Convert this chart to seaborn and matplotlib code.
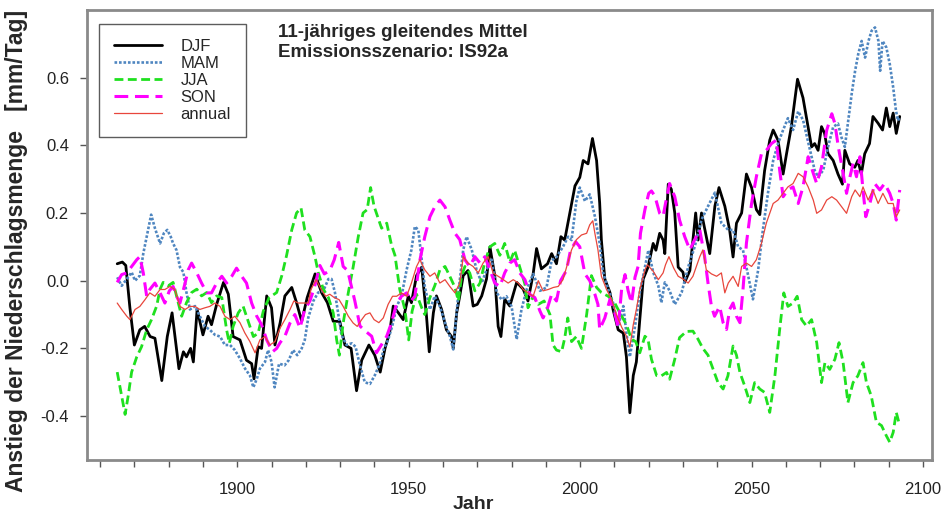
import numpy as np
import pandas as pd
import matplotlib
matplotlib.use("Agg")
import matplotlib.pyplot as plt
import seaborn as sns

# 11-year running means
djf_year = [1865.0, 1866.5, 1867.5, 1868.7, 1870.0, 1871.6, 1873.0, 1874.6, 1876.0, 1878.0,
            1879.6, 1881.0, 1883.0, 1884.3, 1885.2, 1886.4, 1887.2, 1888.3, 1890.0, 1891.5,
            1892.5, 1894.0, 1896.0, 1897.4, 1898.8, 1900.8, 1902.7, 1904.2, 1904.9, 1906.1,
            1907.1, 1908.6, 1910.0, 1911.0, 1912.5, 1913.9, 1915.9, 1917.3, 1918.8, 1920.4,
            1922.7, 1924.6, 1926.3, 1928.0, 1929.9, 1931.4, 1933.2, 1934.8, 1936.3, 1938.4,
            1940.1, 1941.7, 1943.1, 1944.5, 1945.5, 1947.0, 1948.4, 1949.9, 1950.8, 1952.3,
            1953.8, 1955.2, 1956.0, 1957.2, 1958.1, 1959.6, 1961.0, 1962.5, 1963.0, 1964.0,
            1964.9, 1965.9, 1967.3, 1968.8, 1970.0, 1971.3, 1972.7, 1973.7, 1975.1, 1976.1,
            1976.9, 1978.0, 1979.5, 1981.5, 1983.4, 1984.8, 1986.3, 1987.3, 1988.7, 1990.5,
            1991.7, 1993.1, 1994.4, 1995.5, 1997.0, 1998.5, 1999.9, 2000.9, 2002.3, 2003.6,
            2004.8, 2005.7, 2006.2, 2007.2, 2008.7, 2009.6, 2011.1, 2012.6, 2013.5, 2014.5,
            2015.5, 2016.4, 2017.4, 2018.4, 2019.8, 2021.3, 2022.1, 2023.2, 2024.2, 2024.7,
            2025.7, 2026.6, 2027.6, 2028.6, 2030.0, 2030.5, 2032.0, 2033.7, 2034.4, 2035.4,
            2037.8, 2039.3, 2040.5, 2042.2, 2043.6, 2044.6, 2045.6, 2047.1, 2048.5, 2050.0,
            2051.4, 2052.4, 2053.8, 2055.3, 2056.3, 2057.7, 2059.2, 2060.2, 2061.6, 2063.4,
            2065.0, 2066.3, 2067.5, 2068.4, 2069.4, 2070.4, 2071.3, 2072.3, 2073.8, 2075.2,
            2076.5, 2077.2, 2078.6, 2080.1, 2081.0, 2082.0, 2083.0, 2084.4, 2085.4, 2086.9,
            2088.2, 2089.3, 2090.3, 2091.3, 2092.2, 2093.2]
djf_val = [0.05, 0.055, 0.045, -0.08, -0.19, -0.145, -0.135, -0.165, -0.17, -0.295,
           -0.165, -0.095, -0.26, -0.21, -0.225, -0.2, -0.24, -0.085, -0.16, -0.105,
           -0.13, -0.07, -0.005, -0.04, -0.165, -0.175, -0.235, -0.245, -0.29, -0.195,
           -0.2, -0.045, -0.08, -0.19, -0.125, -0.045, -0.02, -0.065, -0.12, -0.05,
           0.02, -0.035, -0.065, -0.12, -0.12, -0.19, -0.2, -0.325, -0.235, -0.19,
           -0.22, -0.27, -0.2, -0.15, -0.075, -0.095, -0.115, -0.045, -0.065, 0.015,
           0.04, -0.105, -0.21, -0.095, -0.045, -0.085, -0.145, -0.165, -0.2, -0.095,
           -0.045, 0.015, 0.03, -0.075, -0.07, -0.045, 0.005, 0.1, 0.015, -0.135,
           -0.165, -0.055, -0.075, -0.005, -0.025, -0.06, 0.02, 0.095, 0.035, 0.05,
           0.08, 0.05, 0.13, 0.12, 0.2, 0.28, 0.305, 0.355, 0.345, 0.42,
           0.355, 0.23, 0.12, 0.005, -0.035, -0.085, -0.145, -0.155, -0.225, -0.39,
           -0.28, -0.24, -0.115, 0.005, 0.04, 0.11, 0.09, 0.14, 0.12, 0.08,
           0.285, 0.27, 0.2, 0.04, 0.025, -0.005, 0.03, 0.2, 0.12, 0.2,
           0.08, 0.22, 0.275, 0.22, 0.15, 0.07, 0.17, 0.2, 0.315, 0.275,
           0.21, 0.195, 0.325, 0.415, 0.445, 0.415, 0.315, 0.375, 0.455, 0.595,
           0.54, 0.465, 0.395, 0.405, 0.385, 0.455, 0.435, 0.375, 0.355, 0.315,
           0.285, 0.385, 0.345, 0.335, 0.355, 0.315, 0.375, 0.405, 0.485, 0.465,
           0.445, 0.51, 0.455, 0.495, 0.435, 0.485]

mam_year = [1865.0, 1866.3, 1867.8, 1869.2, 1870.2, 1871.6, 1872.6, 1873.6, 1874.9, 1876.0,
            1877.5, 1878.6, 1879.6, 1880.6, 1881.3, 1882.3, 1883.3, 1884.3, 1885.2, 1886.2,
            1887.7, 1889.1, 1890.6, 1892.0, 1893.5, 1895.0, 1896.4, 1897.9, 1899.3, 1900.8,
            1902.3, 1903.7, 1904.7, 1905.7, 1906.6, 1908.1, 1909.0, 1910.0, 1910.9, 1912.2,
            1913.8, 1915.0, 1916.3, 1917.5, 1918.8, 1919.7, 1920.7, 1922.2, 1923.6, 1925.1,
            1926.6, 1927.5, 1928.5, 1929.5, 1930.4, 1931.9, 1933.4, 1934.5, 1935.8, 1937.2,
            1938.7, 1940.1, 1941.6, 1942.8, 1944.0, 1945.3, 1946.5, 1947.9, 1949.4, 1950.8,
            1951.8, 1952.8, 1953.8, 1954.7, 1956.2, 1957.6, 1959.1, 1960.6, 1962.0, 1963.0,
            1964.5, 1965.9, 1966.9, 1968.4, 1969.8, 1971.3, 1972.7, 1974.2, 1975.7, 1977.1,
            1978.5, 1980.0, 1981.5, 1982.9, 1984.4, 1986.3, 1988.3, 1990.2, 1991.7, 1993.1,
            1995.0, 1996.5, 1997.5, 1998.9, 1999.9, 2001.4, 2002.8, 2004.3, 2005.7, 2006.7,
            2008.2, 2009.6, 2011.1, 2012.6, 2013.5, 2014.5, 2016.0, 2017.4, 2018.9, 2019.9,
            2021.3, 2022.8, 2023.7, 2024.7, 2026.1, 2027.6, 2029.6, 2031.5, 2033.4, 2035.4,
            2037.3, 2039.3, 2041.2, 2043.2, 2044.6, 2046.1, 2047.5, 2049.0, 2050.4, 2051.9,
            2053.3, 2054.8, 2056.3, 2057.7, 2059.2, 2060.6, 2062.1, 2063.6, 2065.0, 2066.5,
            2067.5, 2068.4, 2069.4, 2070.9, 2072.3, 2073.8, 2075.2, 2076.2, 2077.2, 2078.2,
            2079.2, 2080.2, 2081.1, 2082.1, 2083.1, 2084.1, 2085.0, 2086.0, 2087.0, 2087.5,
            2088.2, 2089.3, 2090.3, 2091.3, 2092.1, 2092.7, 2093.2]
mam_val = [0.01, -0.015, 0.005, 0.025, 0.0, 0.015, 0.08, 0.13, 0.195, 0.155,
           0.11, 0.14, 0.15, 0.13, 0.11, 0.09, 0.04, 0.025, -0.035, -0.085,
           -0.075, -0.105, -0.135, -0.145, -0.16, -0.165, -0.19, -0.19, -0.205, -0.23,
           -0.26, -0.28, -0.315, -0.29, -0.26, -0.24, -0.205, -0.24, -0.315, -0.245,
           -0.25, -0.235, -0.205, -0.22, -0.2, -0.175, -0.11, -0.06, -0.035, -0.03,
           0.005, 0.005, -0.035, -0.1, -0.16, -0.19, -0.185, -0.195, -0.25, -0.3,
           -0.305, -0.28, -0.245, -0.2, -0.175, -0.13, -0.076, -0.046, 0.032, 0.091,
           0.16, 0.15, 0.062, -0.017, -0.085, -0.046, -0.076, -0.124, -0.164, -0.203,
           -0.036, 0.091, 0.13, 0.091, 0.032, -0.007, 0.032, 0.062, -0.036, -0.056,
           -0.046, -0.076, -0.173, -0.085, -0.026, 0.02, -0.03, -0.02, 0.06, 0.07,
           0.1, 0.13, 0.12, 0.235, 0.275, 0.235, 0.255, 0.19, 0.11, 0.025,
           -0.025, -0.065, -0.135, -0.075, -0.155, -0.225, -0.135, -0.035, 0.04, 0.09,
           0.025, -0.015, -0.065, -0.005, -0.03, -0.07, -0.035, 0.04, 0.1, 0.18,
           0.22, 0.26, 0.17, 0.15, 0.15, 0.1, 0.09, 0.015, -0.055, 0.03,
           0.15, 0.26, 0.355, 0.405, 0.445, 0.48, 0.445, 0.5, 0.475, 0.41,
           0.366, 0.326, 0.307, 0.326, 0.395, 0.454, 0.464, 0.424, 0.395, 0.473,
           0.552, 0.62, 0.669, 0.708, 0.659, 0.708, 0.738, 0.748, 0.708, 0.62,
           0.708, 0.689, 0.64, 0.571, 0.503, 0.473, 0.483]

jja_year = [1865.0, 1866.3, 1867.3, 1868.2, 1869.2, 1870.7, 1872.1, 1873.6, 1875.0, 1876.5,
            1877.5, 1878.4, 1879.9, 1881.3, 1882.3, 1883.8, 1885.2, 1886.7, 1888.2, 1889.6,
            1891.1, 1892.5, 1894.0, 1895.5, 1896.9, 1897.7, 1898.8, 1900.3, 1901.7, 1903.2,
            1904.7, 1906.1, 1907.6, 1909.3, 1911.5, 1913.0, 1914.4, 1915.9, 1917.3, 1918.6,
            1919.7, 1921.2, 1922.7, 1923.6, 1925.1, 1926.6, 1928.0, 1929.0, 1929.8, 1930.9,
            1932.4, 1933.8, 1935.3, 1936.7, 1937.9, 1938.9, 1939.9, 1941.1, 1942.1, 1943.6,
            1945.0, 1946.0, 1947.4, 1948.9, 1950.0, 1951.0, 1952.3, 1953.8, 1954.7, 1956.2,
            1957.6, 1959.1, 1960.6, 1962.0, 1963.5, 1964.5, 1965.4, 1966.4, 1967.8, 1969.3,
            1970.8, 1972.2, 1973.7, 1975.1, 1976.6, 1978.0, 1979.5, 1980.9, 1982.4, 1983.9,
            1984.8, 1986.3, 1987.8, 1989.5, 1991.2, 1992.1, 1993.1, 1994.6, 1995.5, 1996.4,
            1997.5, 1998.9, 2000.4, 2001.9, 2003.3, 2004.8, 2006.2, 2008.2, 2010.1, 2011.6,
            2013.5, 2015.0, 2016.2, 2017.4, 2018.9, 2019.8, 2020.8, 2022.3, 2023.7, 2025.2,
            2026.1, 2027.6, 2029.0, 2031.0, 2032.9, 2034.4, 2035.8, 2037.3, 2038.8, 2040.2,
            2041.7, 2043.1, 2044.6, 2045.6, 2046.6, 2048.0, 2049.5, 2050.9, 2052.4, 2053.8,
            2055.3, 2056.8, 2058.2, 2059.4, 2060.6, 2062.1, 2063.3, 2064.6, 2066.0, 2067.5,
            2069.0, 2070.4, 2071.4, 2072.8, 2074.3, 2075.5, 2076.7, 2078.1, 2079.6, 2081.0,
            2082.5, 2083.5, 2084.9, 2086.4, 2087.9, 2089.3, 2090.3, 2091.3, 2092.2, 2093.2]
jja_val = [-0.27, -0.34, -0.395, -0.34, -0.27, -0.225, -0.195, -0.145, -0.115, -0.075,
           -0.025, -0.005, -0.015, -0.005, -0.045, -0.105, -0.065, -0.035, -0.025, -0.045,
           -0.035, -0.065, -0.045, -0.05, -0.145, -0.185, -0.135, -0.095, -0.075, -0.12,
           -0.165, -0.155, -0.09, -0.05, -0.035, 0.015, 0.075, 0.15, 0.2, 0.215,
           0.15, 0.13, 0.07, 0.025, -0.025, -0.05, -0.095, -0.175, -0.22, -0.125,
           -0.035, 0.04, 0.13, 0.2, 0.21, 0.275, 0.22, 0.185, 0.155, 0.17,
           0.105, 0.075, -0.026, -0.085, -0.175, -0.09, -0.04, -0.08, -0.1, -0.05,
           -0.015, 0.032, 0.042, 0.013, -0.02, -0.06, 0.013, 0.042, 0.023, -0.03,
           -0.007, 0.055, 0.1, 0.11, 0.075, 0.11, 0.055, 0.09, 0.04, -0.01,
           -0.08, -0.046, -0.07, -0.06, -0.1, -0.19, -0.205, -0.21, -0.17, -0.11,
           -0.18, -0.165, -0.2, -0.1, 0.015, -0.02, -0.035, -0.046, -0.066, -0.095,
           -0.13, -0.173, -0.18, -0.213, -0.164, -0.173, -0.232, -0.28, -0.281, -0.271,
           -0.291, -0.232, -0.168, -0.15, -0.149, -0.173, -0.2, -0.22, -0.262, -0.301,
           -0.32, -0.281, -0.193, -0.22, -0.271, -0.311, -0.36, -0.301, -0.32, -0.33,
           -0.389, -0.281, -0.144, -0.036, -0.076, -0.066, -0.046, -0.115, -0.134, -0.115,
           -0.183, -0.301, -0.242, -0.262, -0.232, -0.183, -0.242, -0.36, -0.301, -0.281,
           -0.242, -0.301, -0.34, -0.418, -0.428, -0.458, -0.477, -0.448, -0.389, -0.428]

son_year = [1865.0, 1866.3, 1867.8, 1869.2, 1870.7, 1871.6, 1872.6, 1873.6, 1874.5, 1876.0,
            1877.5, 1878.9, 1880.2, 1881.3, 1882.3, 1883.3, 1884.8, 1885.7, 1886.7, 1888.2,
            1889.6, 1891.1, 1892.5, 1894.0, 1895.5, 1896.9, 1898.4, 1899.8, 1901.3, 1902.7,
            1904.2, 1905.7, 1907.1, 1908.6, 1910.3, 1911.5, 1912.5, 1913.9, 1915.4, 1916.8,
            1918.3, 1919.7, 1921.2, 1922.5, 1924.1, 1925.4, 1927.0, 1928.3, 1929.6, 1930.9,
            1932.2, 1932.9, 1934.3, 1935.8, 1937.5, 1939.2, 1940.6, 1942.0, 1943.6, 1945.0,
            1946.5, 1947.9, 1949.4, 1950.6, 1951.8, 1953.3, 1954.7, 1956.2, 1957.6, 1959.1,
            1960.6, 1962.0, 1963.5, 1964.9, 1966.4, 1967.8, 1969.3, 1970.8, 1972.2, 1973.7,
            1975.1, 1976.6, 1978.0, 1979.5, 1980.9, 1982.4, 1983.9, 1985.3, 1986.8, 1988.3,
            1989.2, 1990.5, 1991.7, 1993.1, 1994.3, 1996.0, 1997.2, 1998.7, 1999.9, 2001.4,
            2002.8, 2004.3, 2005.2, 2005.7, 2007.2, 2008.7, 2010.1, 2011.1, 2012.1, 2013.1,
            2014.0, 2015.0, 2016.0, 2016.9, 2017.6, 2018.9, 2020.0, 2020.8, 2021.8, 2023.2,
            2024.2, 2024.9, 2026.1, 2027.6, 2029.0, 2030.5, 2032.0, 2033.4, 2034.9, 2036.3,
            2037.3, 2038.3, 2039.2, 2040.7, 2041.7, 2042.7, 2043.6, 2044.6, 2045.6, 2046.6,
            2047.5, 2048.5, 2050.0, 2051.4, 2052.9, 2054.3, 2055.8, 2057.2, 2058.2, 2059.2,
            2060.6, 2062.1, 2063.6, 2065.0, 2066.5, 2068.0, 2069.0, 2070.4, 2071.9, 2073.4,
            2074.3, 2075.3, 2076.7, 2077.7, 2078.7, 2079.6, 2080.6, 2081.6, 2082.5, 2083.3,
            2084.5, 2085.9, 2087.4, 2088.8, 2090.3, 2091.3, 2092.2, 2093.2]
son_val = [-0.005, 0.018, 0.023, 0.042, 0.062, 0.071, 0.023, -0.046, -0.026, -0.007,
           -0.036, -0.066, -0.03, -0.017, -0.046, -0.066, -0.007, 0.032, 0.052, 0.023,
           -0.007, -0.036, -0.036, -0.007, 0.013, -0.007, 0.013, 0.037, 0.013, -0.007,
           -0.066, -0.105, -0.13, -0.175, -0.21, -0.2, -0.183, -0.164, -0.125, -0.1,
           -0.14, -0.085, -0.06, -0.02, 0.045, 0.02, 0.03, 0.062, 0.113, 0.042,
           0.03, 0.0, -0.06, -0.134, -0.15, -0.164, -0.213, -0.19, -0.164, -0.124,
           -0.066, -0.046, -0.036, -0.06, -0.046, 0.062, 0.13, 0.189, 0.218, 0.238,
           0.218, 0.179, 0.14, 0.121, 0.062, 0.042, 0.071, 0.052, 0.071, 0.032,
           -0.007, -0.017, 0.023, 0.052, 0.062, 0.023, 0.003, -0.04, -0.05, -0.09,
           -0.11, -0.08, -0.04, -0.06, 0.0, 0.03, 0.09, 0.115, 0.1, 0.02,
           0.0, -0.04, -0.07, -0.144, -0.11, -0.055, -0.095, -0.14, -0.025, 0.018,
           -0.03, -0.066, 0.01, 0.042, 0.14, 0.21, 0.258, 0.265, 0.25, 0.199,
           0.19, 0.228, 0.287, 0.248, 0.179, 0.13, 0.091, 0.121, 0.15, 0.071,
           -0.007, -0.076, -0.105, -0.076, -0.124, -0.144, -0.085, -0.066, -0.105, -0.124,
           -0.026, 0.111, 0.228, 0.307, 0.376, 0.385, 0.405, 0.415, 0.326, 0.248,
           0.268, 0.277, 0.228, 0.277, 0.366, 0.317, 0.287, 0.336, 0.444, 0.493,
           0.464, 0.395, 0.317, 0.258, 0.307, 0.346, 0.307, 0.366, 0.268, 0.189,
           0.228, 0.287, 0.268, 0.287, 0.258, 0.228, 0.179, 0.268]

ann_year = [1865.0, 1866.3, 1867.8, 1868.7, 1870.2, 1871.6, 1873.1, 1874.5, 1876.0, 1877.5,
            1878.9, 1880.4, 1881.8, 1883.3, 1884.8, 1886.2, 1887.7, 1889.1, 1890.6, 1892.0,
            1893.5, 1895.0, 1896.4, 1897.9, 1899.3, 1900.8, 1902.2, 1903.7, 1905.2, 1906.6,
            1908.1, 1909.5, 1911.0, 1912.5, 1913.9, 1915.4, 1916.5, 1917.8, 1919.3, 1920.7,
            1921.5, 1923.0, 1924.5, 1925.8, 1927.0, 1928.3, 1929.7, 1930.9, 1932.4, 1933.8,
            1935.0, 1936.3, 1937.4, 1938.7, 1939.9, 1941.3, 1942.6, 1944.0, 1945.3, 1946.5,
            1947.9, 1949.4, 1950.8, 1952.3, 1953.3, 1954.7, 1956.2, 1957.6, 1959.1, 1960.6,
            1962.0, 1963.5, 1964.9, 1965.9, 1967.3, 1968.8, 1970.3, 1971.7, 1973.2, 1974.6,
            1976.1, 1977.6, 1979.0, 1980.5, 1982.0, 1983.4, 1984.8, 1986.3, 1987.8, 1989.2,
            1990.7, 1992.2, 1993.6, 1995.0, 1996.2, 1997.5, 1998.9, 2000.4, 2001.9, 2002.8,
            2003.7, 2004.3, 2005.2, 2006.2, 2007.7, 2009.2, 2010.6, 2012.1, 2013.5, 2014.5,
            2015.5, 2016.4, 2017.4, 2018.9, 2019.6, 2021.3, 2022.8, 2024.2, 2024.9, 2025.9,
            2027.3, 2028.6, 2030.0, 2031.5, 2032.9, 2034.9, 2035.8, 2036.8, 2038.3, 2039.8,
            2041.2, 2042.2, 2043.2, 2044.6, 2046.1, 2047.1, 2048.5, 2050.0, 2051.4, 2052.9,
            2054.3, 2056.3, 2057.7, 2059.2, 2060.6, 2062.1, 2063.6, 2065.0, 2066.5, 2068.0,
            2069.0, 2070.4, 2071.9, 2073.4, 2074.8, 2076.3, 2077.7, 2079.2, 2080.2, 2081.6,
            2082.5, 2084.0, 2085.4, 2086.9, 2088.3, 2089.8, 2091.3, 2092.2, 2093.2]
ann_val = [-0.066, -0.085, -0.105, -0.115, -0.085, -0.076, -0.056, -0.036, -0.046, -0.026,
           -0.026, -0.017, -0.026, -0.076, -0.085, -0.076, -0.076, -0.085, -0.08, -0.076,
           -0.066, -0.076, -0.105, -0.115, -0.105, -0.124, -0.154, -0.18, -0.213, -0.175,
           -0.165, -0.19, -0.18, -0.14, -0.115, -0.085, -0.06, -0.066, -0.066, -0.066,
           -0.026, 0.003, -0.026, -0.046, -0.04, -0.05, -0.056, -0.076, -0.105, -0.125,
           -0.135, -0.115, -0.1, -0.095, -0.115, -0.124, -0.11, -0.07, -0.046, -0.046,
           -0.036, -0.046, -0.007, 0.042, 0.062, 0.032, 0.013, 0.023, -0.007, 0.003,
           -0.017, -0.036, -0.007, 0.071, 0.052, 0.042, 0.023, 0.052, 0.071, 0.023,
           0.013, 0.003, -0.007, 0.003, -0.007, -0.026, -0.036, -0.046, 0.0, -0.03,
           -0.026, -0.02, -0.017, 0.003, 0.045, 0.091, 0.121, 0.135, 0.14, 0.165,
           0.177, 0.14, 0.091, 0.013, -0.026, -0.056, -0.1, -0.137, -0.164, -0.196,
           -0.13, -0.085, -0.026, 0.032, 0.047, 0.028, 0.003, 0.023, 0.047, 0.071,
           0.037, 0.013, 0.005, -0.007, 0.013, 0.071, 0.091, 0.032, 0.02, 0.013,
           0.023, -0.036, -0.007, 0.013, -0.017, 0.042, 0.052, 0.042, 0.062, 0.111,
           0.17, 0.228, 0.238, 0.258, 0.277, 0.287, 0.317, 0.307, 0.277, 0.238,
           0.199, 0.209, 0.238, 0.248, 0.238, 0.218, 0.199, 0.248, 0.268, 0.248,
           0.277, 0.238, 0.268, 0.228, 0.258, 0.228, 0.228, 0.189, 0.209]

# line styles per series
styles = {
    "DJF": dict(color="black", lw=2.0, ls="-"),
    "MAM": dict(color="#4f86c0", lw=1.9, ls=(0, (1.0, 0.7))),
    "JJA": dict(color="#1fe01f", lw=2.0, ls=(0, (3.2, 1.6))),
    "SON": dict(color="#ff00ff", lw=2.2, ls=(0, (4.5, 2.2))),
    "annual": dict(color="#e8463c", lw=0.9, ls="-"),
}

series = {
    "DJF": (djf_year, djf_val),
    "MAM": (mam_year, mam_val),
    "JJA": (jja_year, jja_val),
    "SON": (son_year, son_val),
    "annual": (ann_year, ann_val),
}

sns.set_style("white")
plt.rcParams["font.family"] = ["Liberation Sans", "DejaVu Sans"]

fig = plt.figure(figsize=(9.41, 5.17), dpi=100)
ax = fig.add_axes([0.0925, 0.110, 0.8975, 0.871])

for name, (yrs, vals) in series.items():
    df = pd.DataFrame({"Jahr": yrs, "wert": vals})
    st = styles[name]
    sns.lineplot(data=df, x="Jahr", y="wert", ax=ax, color=st["color"],
                 linewidth=st["lw"], linestyle=st["ls"], label=name,
                 estimator=None, sort=False)

ax.set_xlim(1856.2, 2102.5)
ax.set_ylim(-0.53, 0.80)

ax.set_xticks([1900, 1950, 2000, 2050, 2100])
ax.set_xticks(np.arange(1860, 2101, 10), minor=True)
ax.set_yticks([-0.4, -0.2, 0.0, 0.2, 0.4, 0.6])
ax.set_yticklabels(["-0.4", "-0.2", "0.0", "0.2", "0.4", "0.6"])
ax.tick_params(axis="both", which="both", direction="out", length=5, width=1,
               color="#555555", labelsize=12, labelcolor="#222222", pad=8)
ax.tick_params(axis="x", which="both", bottom=True, pad=11)
ax.tick_params(axis="y", left=True)

for sp in ax.spines.values():
    sp.set_color("#8a8a8a")
    sp.set_linewidth(2.0)

ax.set_xlabel("Jahr", fontsize=14, fontweight="bold")
ax.xaxis.set_label_coords(0.457, -0.08)
ax.set_ylabel("Anstieg der Niederschlagsmenge   [mm/Tag]", fontsize=16.5,
              fontweight="bold")
ax.yaxis.set_label_coords(-0.07, 0.465)

ax.text(0.226, 0.968, "11-jähriges gleitendes Mittel\nEmissionsszenario: IS92a",
        transform=ax.transAxes, fontsize=13.5, fontweight="bold", va="top",
        ha="left", linespacing=1.2)

leg = ax.legend(loc="upper left", bbox_to_anchor=(0.0142, 0.969), borderaxespad=0,
                fontsize=12, frameon=True, fancybox=False, edgecolor="#333333",
                handlelength=2.9, handletextpad=1.1, labelspacing=0.12,
                borderpad=0.9)
leg.get_frame().set_linewidth(1.0)

fig.savefig("out.png", dpi=100)
